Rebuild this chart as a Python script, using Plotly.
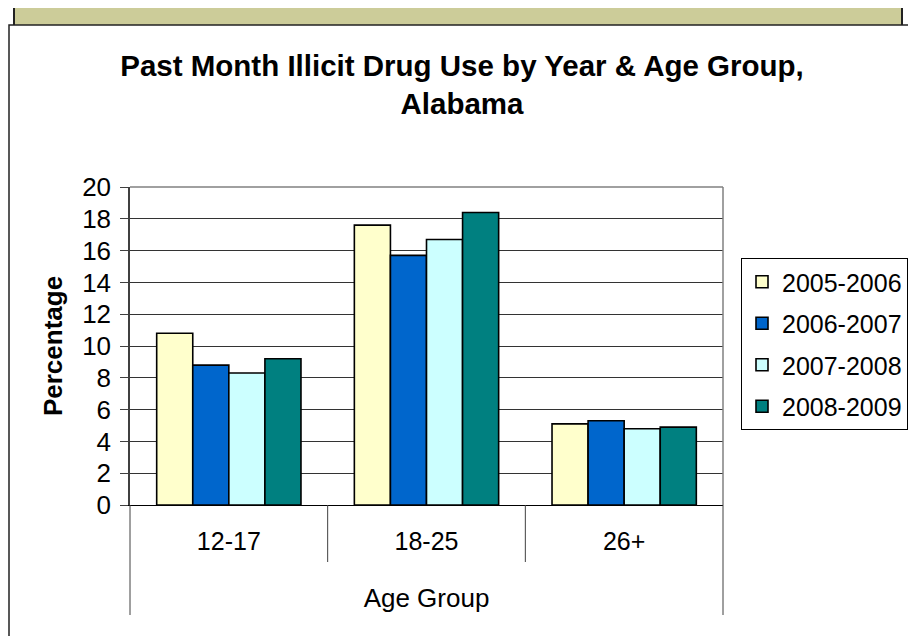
import plotly.graph_objects as go

categories = ["12-17", "18-25", "26+"]
series_names = ["2005-2006", "2006-2007", "2007-2008", "2008-2009"]
values_2005_2006 = [10.8, 17.6, 5.1]
values_2006_2007 = [8.8, 15.7, 5.3]
values_2007_2008 = [8.3, 16.7, 4.8]
values_2008_2009 = [9.2, 18.4, 4.9]
series_values = [values_2005_2006, values_2006_2007, values_2007_2008, values_2008_2009]
colors = ["#FFFFCC", "#0066CC", "#CCFFFF", "#008080"]
y_ticks = [0, 2, 4, 6, 8, 10, 12, 14, 16, 18, 20]

# page has an 8px body margin; work in page pixel coordinates
OFF = 8
W, H = 916 - OFF, 636 - OFF
PL, PR, PT, PB = 130, 723, 187, 505  # plot area in page pixels
L, T = PL - OFF, PT - OFF
R, B = W - (PR - OFF), H - (PB - OFF)
pw, ph = W - L - R, H - T - B

def px_x(p):
    return (p - OFF - L) / pw

def px_y(p):
    return (H - B - (p - OFF)) / ph

FONT = "Arial, Liberation Sans, sans-serif"

fig = go.Figure()
for name, vals, col in zip(series_names, series_values, colors):
    fig.add_trace(go.Bar(
        x=categories, y=vals, name=name, legendgroup=name,
        marker=dict(color=col, line=dict(color="black", width=1.6)),
    ))

shapes = []
shapes.append(dict(type="rect", xref="paper", yref="paper", layer="below",
                   x0=px_x(14), x1=px_x(902), y0=px_y(60), y1=px_y(4),
                   fillcolor="#CCCC99", line=dict(color="#222222", width=2)))
shapes.append(dict(type="rect", xref="paper", yref="paper", layer="below",
                   x0=px_x(9), x1=px_x(910), y0=px_y(680), y1=px_y(25),
                   fillcolor="white", line=dict(color="#222222", width=1.5)))
shapes.append(dict(type="line", xref="paper", yref="paper", x0=0, x1=1, y0=1, y1=1,
                   line=dict(color="#808080", width=1.5)))
shapes.append(dict(type="line", xref="paper", yref="paper", x0=1, x1=1, y0=0, y1=1,
                   line=dict(color="#808080", width=1.5)))
n = len(categories)
for i in range(n + 1):
    outer = (i == 0 or i == n)
    shapes.append(dict(type="line", xref="paper", yref="paper",
                       x0=i / n, x1=i / n,
                       y0=0, y1=px_y(615) if outer else px_y(562),
                       line=dict(color="#404040", width=1)))

fig.update_layout(
    width=W, height=H,
    margin=dict(l=L, r=R, t=T, b=B, autoexpand=False),
    paper_bgcolor="white", plot_bgcolor="#C0C0C0",
    font=dict(family=FONT, color="black", size=25),
    barmode="group", bargap=0.27, bargroupgap=0,
    title=dict(text="<b>Past Month Illicit Drug Use by Year & Age Group,<br>Alabama</b>",
               font=dict(size=29.5, family=FONT, color="black"),
               x=(462 - OFF) / W, xanchor="center", xref="container",
               y=1 - 68 / H, yanchor="top", yref="container"),
    xaxis=dict(type="category", range=[-0.5, n - 0.5], showline=True, linecolor="black",
               linewidth=1, ticks="", showgrid=False, ticklabelstandoff=14,
               tickfont=dict(size=25),
               title=dict(text="Age Group", font=dict(size=26), standoff=34)),
    yaxis=dict(range=[0, 20], tickvals=y_ticks, showline=True, linecolor="#404040",
               linewidth=1.5, ticks="outside", ticklen=8, tickcolor="#404040",
               showgrid=True, gridcolor="#333333", gridwidth=1, zeroline=False,
               ticklabelstandoff=4, tickfont=dict(size=26),
               title=dict(text="<b>Percentage</b>", font=dict(size=26), standoff=12)),
    legend=dict(x=px_x(741), y=px_y(258), xanchor="left", yanchor="top",
                bordercolor="black", borderwidth=1, bgcolor="white",
                font=dict(size=25), traceorder="grouped", tracegroupgap=6),
    shapes=shapes,
    showlegend=True,
)

fig.write_html("out.html")
